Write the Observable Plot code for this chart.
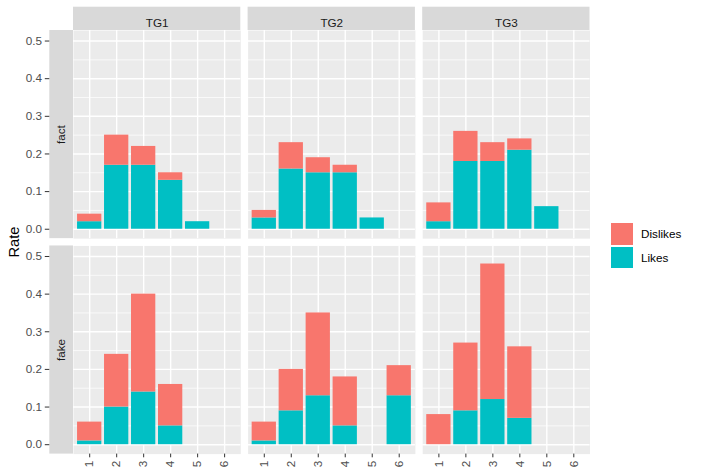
<!DOCTYPE html>
<html>
<head>
<meta charset="utf-8">
<script src="https://cdn.jsdelivr.net/npm/d3@7"></script>
<script src="https://cdn.jsdelivr.net/npm/@observablehq/plot@0.6"></script>
<style>
  html, body { margin: 0; padding: 0; background: #ffffff; }
  #chart { position: relative; width: 701px; height: 475px; font-family: "Liberation Sans", Arial, sans-serif; }
  #chart svg { position: absolute; left: 0; top: 0; }
  .ylab { position: absolute; left: 14px; top: 242px; transform: translate(-50%, -50%) rotate(-90deg);
          font-size: 14.7px; color: #000000; white-space: nowrap; }
  .legend { position: absolute; left: 610.5px; top: 223px; font-size: 11.7px; color: #000000; }
  .legend .item { position: relative; height: 23.5px; }
  .legend .key { position: absolute; left: 0; top: 0; width: 22.5px; height: 21.5px; }
  .legend .lab { position: absolute; left: 30.5px; top: 0; line-height: 21.5px; white-space: nowrap; }
</style>
</head>
<body>
<div id="chart"></div>
<script>
// Categories
const levels = ["1", "2", "3", "4", "5", "6"];
const groups = ["TG1", "TG2", "TG3"];
const rowLabels = ["fact", "fake"];
const types = ["Dislikes", "Likes"];
const typeColors = ["#F8766D", "#00BFC4"];
const yTicks = [0, 0.1, 0.2, 0.3, 0.4, 0.5];
const yMinorTicks = [0.05, 0.15, 0.25, 0.35, 0.45];

// Rates per answer level (1..6)
const factLikesTG1    = [0.02, 0.17, 0.17, 0.13, 0.02, 0];
const factDislikesTG1 = [0.02, 0.08, 0.05, 0.02, 0, 0];
const factLikesTG2    = [0.03, 0.16, 0.15, 0.15, 0.03, 0];
const factDislikesTG2 = [0.02, 0.07, 0.04, 0.02, 0, 0];
const factLikesTG3    = [0.02, 0.18, 0.18, 0.21, 0.06, 0];
const factDislikesTG3 = [0.05, 0.08, 0.05, 0.03, 0, 0];
const fakeLikesTG1    = [0.01, 0.10, 0.14, 0.05, 0, 0];
const fakeDislikesTG1 = [0.05, 0.14, 0.26, 0.11, 0, 0];
const fakeLikesTG2    = [0.01, 0.09, 0.13, 0.05, 0, 0.13];
const fakeDislikesTG2 = [0.05, 0.11, 0.22, 0.13, 0, 0.08];
const fakeLikesTG3    = [0, 0.09, 0.12, 0.07, 0, 0];
const fakeDislikesTG3 = [0.08, 0.18, 0.36, 0.19, 0, 0];

const panels = [
  {g: "TG1", r: "fact", likes: factLikesTG1, dislikes: factDislikesTG1},
  {g: "TG2", r: "fact", likes: factLikesTG2, dislikes: factDislikesTG2},
  {g: "TG3", r: "fact", likes: factLikesTG3, dislikes: factDislikesTG3},
  {g: "TG1", r: "fake", likes: fakeLikesTG1, dislikes: fakeDislikesTG1},
  {g: "TG2", r: "fake", likes: fakeLikesTG2, dislikes: fakeDislikesTG2},
  {g: "TG3", r: "fake", likes: fakeLikesTG3, dislikes: fakeDislikesTG3}
];

// Long table: Likes rows first so they stack at the bottom
const table = [];
for (const p of panels) {
  levels.forEach((lv, i) => { if (p.likes[i] > 0) table.push({g: p.g, r: p.r, level: lv, type: "Likes", value: p.likes[i]}); });
  levels.forEach((lv, i) => { if (p.dislikes[i] > 0) table.push({g: p.g, r: p.r, level: lv, type: "Dislikes", value: p.dislikes[i]}); });
}

// Panel geometry
const W = 701, H = 475;
const mL = 73, mR = 111.5, mT = 30, mB = 21.4, gap = 7.3;
const panelW = (W - mL - mR - 2 * gap) / 3;
const panelH = (H - mT - mB - gap) / 2;
const stripTop = 23.3, stripLeft = 23.7;

const topStrips = groups.map(g => ({g, r: "fact"}));
const sideStrips = rowLabels.map(r => ({g: "TG1", r}));

const fontSize = 11.7;

const plot = Plot.plot({
  width: W,
  height: H,
  marginLeft: mL,
  marginRight: mR,
  marginTop: mT,
  marginBottom: mB,
  style: {fontFamily: '"Liberation Sans", Arial, sans-serif', fontSize: fontSize + "px", background: "transparent", overflow: "visible"},
  fx: {domain: groups, paddingInner: gap / (panelW + gap), paddingOuter: 0, round: false, axis: null, label: null},
  fy: {domain: rowLabels, paddingInner: gap / (panelH + gap), paddingOuter: 0, round: false, axis: null, label: null},
  x: {type: "band", domain: levels, paddingInner: 0.1, paddingOuter: 0.15, align: 0.5, round: false, label: null},
  y: {domain: [-0.025, 0.528], label: null},
  color: {domain: types, range: typeColors},
  marks: [
    Plot.frame({fill: "#EBEBEB"}),
    Plot.gridY(yMinorTicks, {stroke: "#ffffff", strokeOpacity: 1, strokeWidth: 0.7}),
    Plot.gridY(yTicks, {stroke: "#ffffff", strokeOpacity: 1, strokeWidth: 1.4}),
    Plot.gridX(levels, {stroke: "#ffffff", strokeOpacity: 1, strokeWidth: 1.4}),
    Plot.barY(table, {fx: "g", fy: "r", x: "level", y: "value", fill: "type"}),
    // column strips
    Plot.rect(topStrips, {fx: "g", fy: "r", fill: "#D9D9D9", insetTop: -stripTop, insetBottom: panelH}),
    Plot.text(topStrips, {fx: "g", fy: "r", text: "g", frameAnchor: "top", dy: -stripTop / 2, fill: "#1A1A1A", fontSize}),
    // row strips
    Plot.rect(sideStrips, {fx: "g", fy: "r", fill: "#D9D9D9", insetLeft: -stripLeft, insetRight: panelW}),
    Plot.text(sideStrips, {fx: "g", fy: "r", text: "r", frameAnchor: "left", textAnchor: "middle", dx: -stripLeft / 2, rotate: -90, fill: "#1A1A1A", fontSize}),
    // axes
    Plot.axisY(yTicks, {anchor: "left", dx: -stripLeft, tickSize: 4.5, tickPadding: 3.2, tickFormat: d3.format(".1f"),
      stroke: "#333333", fill: "#4D4D4D", fontSize, label: null}),
    Plot.axisX(levels, {anchor: "bottom", tickSize: 3.7, tickPadding: 2.9, tickRotate: -90,
      stroke: "#333333", fill: "#4D4D4D", fontSize, label: null})
  ]
});

const chart = document.getElementById("chart");
chart.appendChild(plot);

// y-axis title
const ylab = document.createElement("div");
ylab.className = "ylab";
ylab.textContent = "Rate";
chart.appendChild(ylab);

// fill legend
const legend = document.createElement("div");
legend.className = "legend";
types.forEach((t, i) => {
  const item = document.createElement("div");
  item.className = "item";
  const key = document.createElement("div");
  key.className = "key";
  key.style.background = typeColors[i];
  const lab = document.createElement("div");
  lab.className = "lab";
  lab.textContent = t;
  item.appendChild(key);
  item.appendChild(lab);
  legend.appendChild(item);
});
chart.appendChild(legend);
</script>
</body>
</html>
